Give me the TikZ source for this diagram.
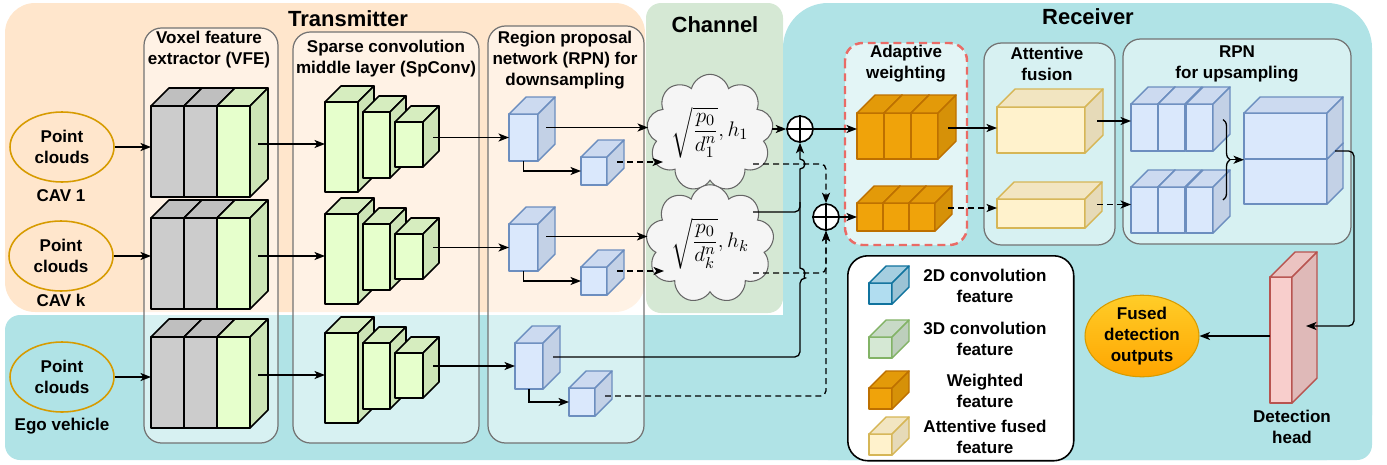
\documentclass[tikz,border=0pt]{standalone}
\usepackage[no-math]{fontspec}
\setmainfont{Liberation Sans}
\usepackage{amsmath}
\usetikzlibrary{arrows.meta,calc,shapes.geometric,shapes.symbols,decorations.pathreplacing}

\definecolor{peachbg}{HTML}{FFE6CC}
\definecolor{chanbg}{HTML}{D5E8D4}
\definecolor{tealbg}{HTML}{B0E3E6}
\definecolor{pcline}{HTML}{D79B00}
\definecolor{awred}{HTML}{EA6B66}
\definecolor{cloudF}{HTML}{F5F5F5}
\definecolor{cloudL}{HTML}{666666}
\definecolor{gryF}{HTML}{CCCCCC}
\definecolor{gryT}{HTML}{BFBFBF}
\definecolor{gryS}{HTML}{B3B3B3}
\definecolor{grnF}{HTML}{E6FFCC}
\definecolor{grnT}{HTML}{D6EDBF}
\definecolor{grnS}{HTML}{CDE4B6}
\definecolor{bluL}{HTML}{6C8EBF}
\definecolor{bluF}{HTML}{DAE8FC}
\definecolor{bluT}{HTML}{CCDAF0}
\definecolor{bluS}{HTML}{C3D1E6}
\definecolor{orgL}{HTML}{BD7000}
\definecolor{orgF}{HTML}{F0A30A}
\definecolor{orgT}{HTML}{E39A09}
\definecolor{orgS}{HTML}{D69108}
\definecolor{ylwL}{HTML}{D6B656}
\definecolor{ylwF}{HTML}{FFF2CC}
\definecolor{ylwT}{HTML}{F2E5C1}
\definecolor{ylwS}{HTML}{E6DAB8}
\definecolor{pnkL}{HTML}{B85450}
\definecolor{pnkF}{HTML}{F8CECC}
\definecolor{pnkT}{HTML}{EBC3C1}
\definecolor{pnkS}{HTML}{DFB9B8}
\definecolor{lblL}{HTML}{10739E}
\definecolor{lblF}{HTML}{B1DDF0}
\definecolor{lblT}{HTML}{A5CEE0}
\definecolor{lblS}{HTML}{9CC3D5}
\definecolor{lgnL}{HTML}{82B366}
\definecolor{lgnF}{HTML}{D5E8D4}
\definecolor{lgnT}{HTML}{C8DAC7}
\definecolor{lgnS}{HTML}{BDCFBC}
\definecolor{fusedT}{HTML}{FFCD28}
\definecolor{fusedB}{HTML}{FFA500}

\tikzset{
  face/.style 2 args={draw=#1, line width=#2, line join=round, inner sep=0pt, outer sep=0pt},
  gry front/.style={face={black}{0.9pt}, fill=gryF},
  gry top/.style={face={black}{0.9pt}, fill=gryT},
  gry side/.style={face={black}{0.9pt}, fill=gryS},
  grn front/.style={face={black}{0.9pt}, fill=grnF},
  grn top/.style={face={black}{0.9pt}, fill=grnT},
  grn side/.style={face={black}{0.9pt}, fill=grnS},
  blu front/.style={face={bluL}{0.8pt}, fill=bluF},
  blu top/.style={face={bluL}{0.8pt}, fill=bluT},
  blu side/.style={face={bluL}{0.8pt}, fill=bluS},
  org front/.style={face={orgL}{0.8pt}, fill=orgF},
  org top/.style={face={orgL}{0.8pt}, fill=orgT},
  org side/.style={face={orgL}{0.8pt}, fill=orgS},
  ylw front/.style={face={ylwL}{0.8pt}, fill=ylwF},
  ylw top/.style={face={ylwL}{0.8pt}, fill=ylwT},
  ylw side/.style={face={ylwL}{0.8pt}, fill=ylwS},
  pnk front/.style={face={pnkL}{0.8pt}, fill=pnkF},
  pnk top/.style={face={pnkL}{0.8pt}, fill=pnkT},
  pnk side/.style={face={pnkL}{0.8pt}, fill=pnkS},
  lbl front/.style={face={lblL}{0.8pt}, fill=lblF},
  lbl top/.style={face={lblL}{0.8pt}, fill=lblT},
  lbl side/.style={face={lblL}{0.8pt}, fill=lblS},
  lgn front/.style={face={lgnL}{0.8pt}, fill=lgnF},
  lgn top/.style={face={lgnL}{0.8pt}, fill=lgnT},
  lgn side/.style={face={lgnL}{0.8pt}, fill=lgnS},
}

% name, x, y (front top left), width, height, depth, colour set
\newcommand{\blockcube}[7]{%
  \node[#7 front, anchor=north west, minimum width=#4*0.02cm, minimum height=#5*0.02cm] (#1) at (#2,#3) {};
  \filldraw[#7 top] (#1.north west) -- ++(#6,-#6) -- ++(#4,0) -- (#1.north east) -- cycle;
  \filldraw[#7 side] (#1.north east) -- ++(#6,-#6) -- ++(0,#5) -- (#1.south east) -- cycle;
}

\begin{document}
\begin{tikzpicture}[x=0.02cm,y=-0.02cm,
  txt/.style={font=\fontsize{9.7}{11.9}\selectfont\bfseries, align=center, inner sep=0pt},
  ttl/.style={font=\fontsize{12.5}{15}\selectfont\bfseries, inner sep=0pt},
  arr/.style={line width=0.75pt, -{Stealth[length=6pt,width=4.6pt,inset=1.6pt]}},
  darr/.style={arr, dash pattern=on 3.4pt off 2.3pt},
  conn/.style={line width=0.75pt},
  subbox/.style={draw=black!55, fill=white, fill opacity=0.5, line width=0.7pt, rounded corners=0.35cm},
  awbox/.style={draw=awred, fill=white, fill opacity=0.65, line width=1.4pt, dash pattern=on 4.5pt off 2.8pt, rounded corners=0.35cm},
  pcl/.style={ellipse, draw=pcline, line width=0.9pt, minimum width=2.08cm, minimum height=1.4cm, txt},
  fused/.style={ellipse, draw=pcline, line width=0.6pt, top color=fusedT, bottom color=fusedB, minimum width=2.28cm, minimum height=1.56cm, txt},
  cld/.style={cloud, cloud puffs=9, aspect=1.15, draw=cloudL, fill=cloudF, line width=0.6pt, minimum width=2.1cm, minimum height=1.86cm, inner sep=0pt, font=\fontsize{13}{15}\selectfont},
  opl/.style={circle, draw, fill=white, line width=0.9pt, minimum size=0.52cm, inner sep=0pt},
  legbox/.style={draw, fill=white, line width=0.9pt, rounded corners=0.4cm}]
\useasboundingbox (0,0) rectangle (1387,464);

% regions
\fill[peachbg, rounded corners=0.6cm] (5,3) rectangle (645,312);
\fill[chanbg, rounded corners=0.3cm] (646,3) rectangle (783,313);
\fill[tealbg, rounded corners=0.3cm] (5,315) rectangle (1372,460);
\fill[tealbg, rounded corners=0.9cm] (783,3) rectangle (1372,460);

\draw[subbox] (144,28) rectangle (278,443);
\draw[subbox] (293,32) rectangle (479,443);
\draw[subbox] (488,26) rectangle (644,443);
\draw[awbox] (845,43) rectangle (967,245);
\draw[subbox] (984,43) rectangle (1115,245);
\draw[subbox] (1123,39) rectangle (1351,244);

\node[ttl] (ttx) at (348,19) {Transmitter};
\node[ttl] (tch) at (715,25) {Channel};
\node[ttl] (trx) at (1088,17) {Receiver};
\node[txt] (hvfe) at (209,50) {Voxel feature\\extractor (VFE)};
\node[txt] (hsp) at (386,59) {Sparse convolution\\middle layer (SpConv)};
\node[txt] (hrpd) at (565,60) {Region proposal\\network (RPN) for\\downsampling};
\node[txt] (haw) at (906,64) {Adaptive\\weighting};
\node[txt] (haf) at (1047,64) {Attentive\\fusion};
\node[txt] (hrpu) at (1237,64) {RPN\\for upsampling};

% transmitter side
\node[pcl] (pc1) at (62,147) {Point\\clouds};
\node[pcl] (pck) at (61,256) {Point\\clouds};
\node[pcl] (pce) at (62,377) {Point\\clouds};
\node[txt] (cap1) at (61,196) {CAV 1};
\node[txt] (capk) at (61,300) {CAV k};
\node[txt] (cape) at (62,426) {Ego vehicle};

\foreach \rw/\dy in {1/0,k/112,e/231}{
  \blockcube{vfe\rw a}{151}{106+\dy}{33}{91}{18}{gry}
  \blockcube{vfe\rw b}{184}{106+\dy}{33}{91}{18}{gry}
  \blockcube{vfe\rw c}{217}{106+\dy}{33}{91}{18}{grn}
  \blockcube{sp\rw a}{325}{102+\dy}{33}{90}{16}{grn}
  \blockcube{sp\rw b}{363}{112+\dy}{27}{66}{16}{grn}
  \blockcube{sp\rw c}{395}{122+\dy}{28}{45}{16}{grn}
  \draw[arr] (pc\rw.east) -- (pc\rw.east -| vfe\rw a.west);
  \draw[arr] ($(vfe\rw c.east |- sp\rw a.west)+(8,-3)$) -- ($(sp\rw a.west)+(0,-3)$);
}

\blockcube{rp1a}{509}{114}{29}{47}{17}{blu}
\blockcube{rp1b}{581}{157}{26}{28}{17}{blu}
\blockcube{rpka}{509}{224}{29}{47}{17}{blu}
\blockcube{rpkb}{581}{267}{26}{28}{17}{blu}
\blockcube{rpea}{515}{343}{28}{46}{17}{blu}
\blockcube{rpeb}{569}{388}{26}{28}{17}{blu}
\foreach \rw in {1,k,e}{
  \draw[arr] ($(sp\rw c.east |- rp\rw a.west)+(10,0)$) -- (rp\rw a.west);
  \draw[arr] (rp\rw a.south) |- (rp\rw b.west);
}

% channel
\node[cld] (c1) at (710,133) {$\displaystyle\sqrt{\frac{p_0}{d_1^n}},h_1$};
\node[cld] (ck) at (710,244) {$\displaystyle\sqrt{\frac{p_0}{d_k^n}},h_k$};
\draw[arr] ($(rp1a.east)+(8,-10)$) coordinate (q) -- (q -| c1.west);
\draw[darr] ($(rp1b.east)+(10,-9)$) -- ($(c1.center)+(-47,29)$);
\draw[arr] ($(rpka.east)+(8,-11)$) coordinate (q) -- (q -| ck.west);
\draw[darr] ($(rpkb.east)+(10,-10)$) -- ($(ck.center)+(-46,27)$);

\coordinate (c1d) at ($(c1.center)+(43,31)$);
\coordinate (cks) at ($(ck.center)+(43,-32)$);
\coordinate (ckd) at ($(ck.center)+(43,29)$);

\node[opl] (o1) at (800,129) {};
\node[opl] (o2) at (826,217) {};
\foreach \o in {o1,o2}{
  \draw[line width=0.9pt] (\o.north) -- (\o.south) (\o.west) -- (\o.east);
}

\draw[arr] (c1.east |- o1) -- (o1.west);
\draw[conn, rounded corners=3pt] (cks) -| ($(o1.south |- cks)+(0,-10)$);
\draw[arr, rounded corners=3pt] ($(rpea.east)+(10,-9)$) -| ($(o1.south |- ckd)+(0,5)$)
  [sharp corners] arc[start angle=-90, end angle=90, radius=0.1cm]
  -- ($(o1.south |- c1d)+(0,5)$) arc[start angle=-90, end angle=90, radius=0.1cm]
  -- (o1.south);
\draw[darr, rounded corners=3pt] (c1d) -| (o2.north);
\draw[darr, rounded corners=3pt] (ckd) -| (o2.south);
\draw[darr, rounded corners=3pt] ($(rpeb.east)+(10,-6)$) -| (o2.south);

% receiver
\foreach \i/\x in {1/857,2/884,3/911}{
  \blockcube{wa\i}{\x}{113}{27}{46}{18}{org}
}
\foreach \i/\x in {1/857,2/883,3/909}{
  \blockcube{wb\i}{\x}{203}{26}{28}{17}{org}
}
\blockcube{af1}{997}{107}{88}{46}{18}{ylw}
\blockcube{af2}{997}{199}{88}{29}{17}{ylw}
\foreach \i/\x in {1/1131,2/1158,3/1186}{
  \blockcube{ua\i}{\x}{104}{27}{47}{17}{blu}
  \blockcube{ub\i}{\x}{187}{27}{46}{17}{blu}
}
\blockcube{ucl}{1244}{159}{83}{45}{16}{blu}
\blockcube{ucu}{1244}{113}{83}{46}{16}{blu}
\blockcube{dh}{1270}{277}{22}{126}{25}{pnk}

\draw[arr] (o1.east) -- (o1 -| wa1.west);
\draw[arr] (o2.east) -- (o2 -| wb1.west);
\draw[arr] ($(wa3.east)+(10,-8)$) coordinate (q) -- (q -| af1.west);
\draw[darr] ($(wb3.east)+(13,-9)$) coordinate (q) -- (q -| af2.west);
\draw[arr] ($(af1.east)+(12,-9)$) coordinate (q) -- (q -| ua1.west);
\draw[darr] ($(af2.east)+(12,-9)$) coordinate (q) -- (q -| ub1.west);
\draw[conn, decorate, decoration={brace, amplitude=4pt}] ($(ua3.east)+(10,-8)$) -- ($(ub3.east)+(10,-10)$);
\coordinate (bt) at ($(ua3.east)!0.5!(ub3.east)+(17,-9)$);
\draw[arr] (bt) -- (bt -| ucu.west);
\draw[arr, rounded corners=3pt] ($(ucu.south east)+(8,-8)$) -- ++(19,0) |- ($(dh.east)+(14,-14)$);

\node[fused] (fo) at (1142,336) {Fused\\detection\\outputs};
\draw[arr] (dh.west |- fo.east) -- (fo.east);
\node[txt] (dhl) at (1292,427) {Detection\\head};

% legend
\node[legbox, anchor=north west, minimum width=4.52cm, minimum height=4.1cm] (leg) at (847,255) {};
\blockcube{lg1}{869}{283}{23}{21}{17}{lbl}
\blockcube{lg2}{869}{337}{23}{21}{17}{lgn}
\blockcube{lg3}{869}{388}{23}{21}{17}{org}
\blockcube{lg4}{869}{434}{23}{21}{17}{ylw}
\node[txt] (lt1) at (985,286) {2D convolution\\feature};
\node[txt] (lt2) at (985,339) {3D convolution\\feature};
\node[txt] (lt3) at (985,391) {Weighted\\feature};
\node[txt] (lt4) at (985,437) {Attentive fused\\feature};
\end{tikzpicture}
\end{document}
